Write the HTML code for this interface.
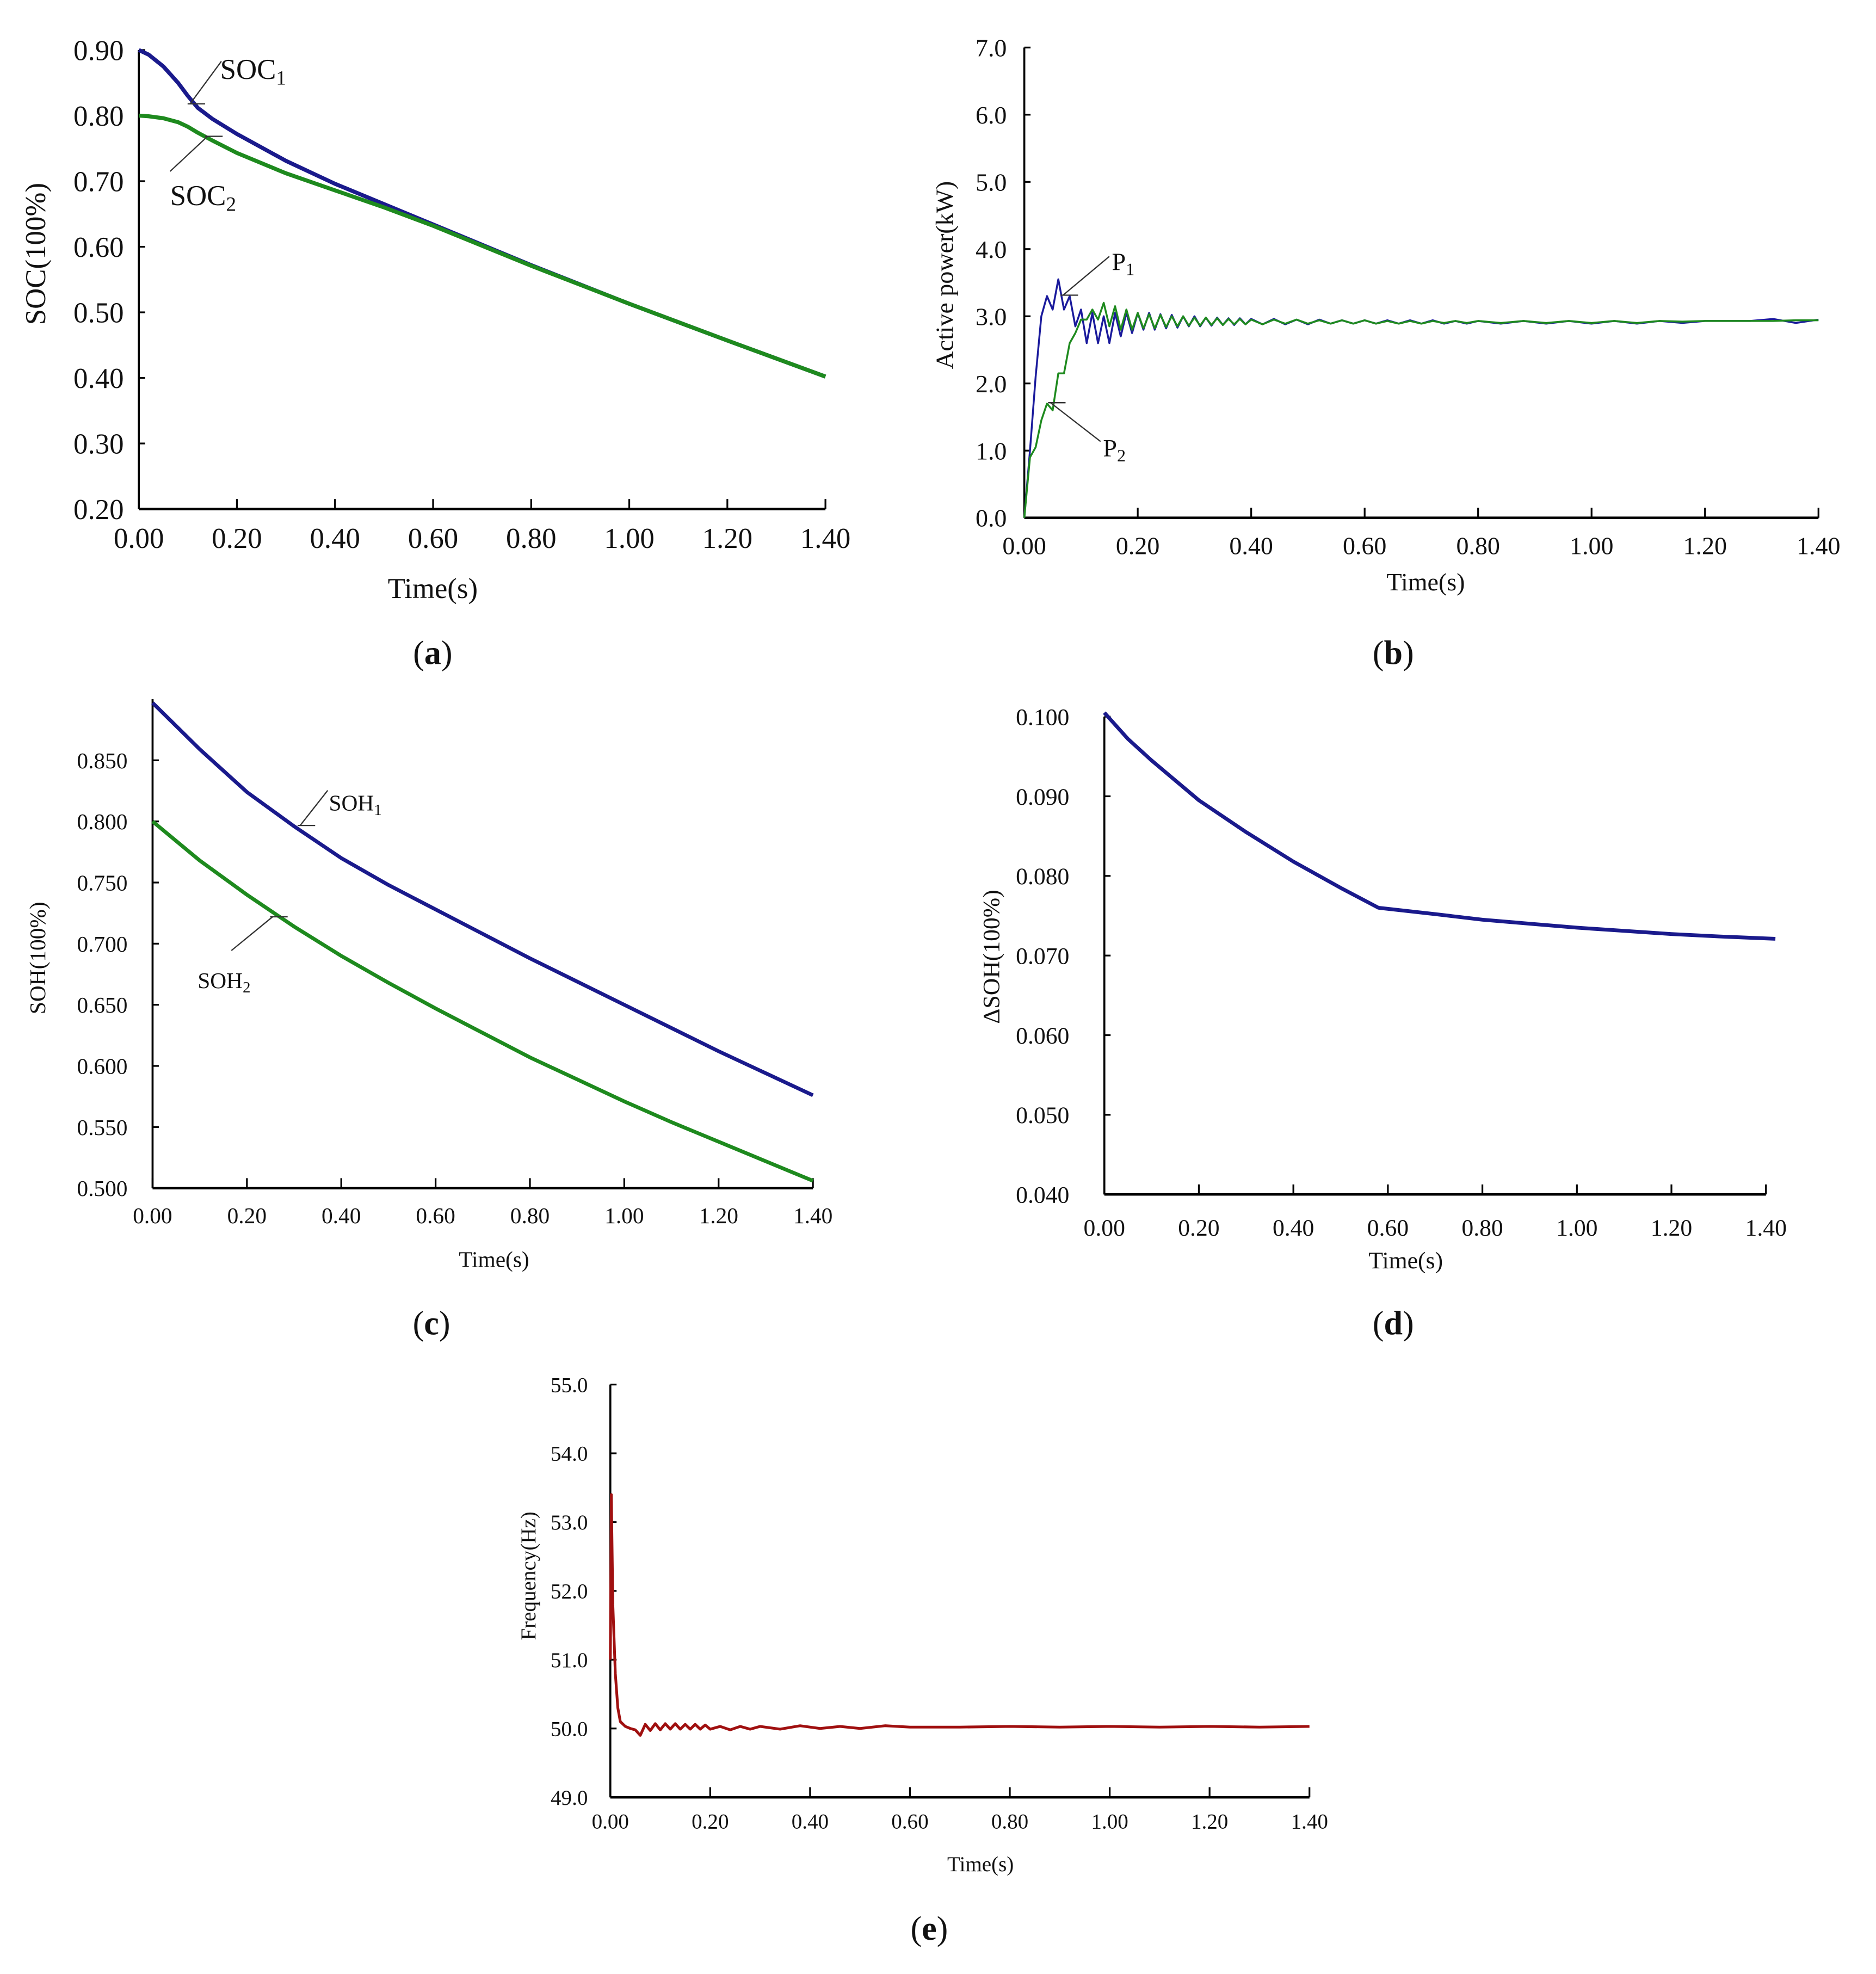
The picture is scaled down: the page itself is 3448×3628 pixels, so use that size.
<!DOCTYPE html>
<html><head><meta charset="utf-8"><style>
html,body{margin:0;padding:0;background:#fff}
svg{display:block}
text{font-family:"Liberation Serif",serif;fill:#111}
</style></head><body>
<svg id="fig" width="3448" height="3628" viewBox="0 0 1500 1578.3" xmlns="http://www.w3.org/2000/svg"></svg>
<script>
// ---- data ----
const socT = [0,0.02,0.05,0.08,0.1,0.12,0.15,0.2,0.3,0.4,0.5,0.6,0.8,1.0,1.2,1.4];
const soc1 = [0.90,0.893,0.875,0.85,0.83,0.812,0.795,0.772,0.731,0.696,0.665,0.634,0.572,0.513,0.457,0.402];
const soc2 = [0.80,0.799,0.796,0.79,0.783,0.774,0.762,0.743,0.712,0.686,0.66,0.632,0.571,0.513,0.457,0.402];
const socYTicks = ["0.20","0.30","0.40","0.50","0.60","0.70","0.80","0.90"];
const xTicks = ["0.00","0.20","0.40","0.60","0.80","1.00","1.20","1.40"];

const pT = [0,0.01,0.02,0.03,0.04,0.05,0.06,0.07,0.08,0.09,0.10,0.11,0.12,0.13,0.14,0.15,0.16,0.17,0.18,0.19,0.20,0.21,0.22,0.23,0.24,0.25,0.26,0.27,0.28,0.29,0.30,0.31,0.32,0.33,0.34,0.35,0.36,0.37,0.38,0.39,0.40,0.42,0.44,0.46,0.48,0.50,0.52,0.54,0.56,0.58,0.60,0.62,0.64,0.66,0.68,0.70,0.72,0.74,0.76,0.78,0.80,0.84,0.88,0.92,0.96,1.00,1.04,1.08,1.12,1.16,1.20,1.24,1.28,1.32,1.36,1.40];
const p1 = [0,1.0,2.1,3.0,3.3,3.1,3.55,3.1,3.3,2.85,3.1,2.6,3.05,2.6,3.0,2.6,3.05,2.7,3.05,2.75,3.05,2.8,3.05,2.8,3.03,2.82,3.02,2.83,3.0,2.85,3.0,2.85,2.98,2.86,2.98,2.87,2.97,2.87,2.97,2.88,2.96,2.88,2.96,2.88,2.95,2.88,2.95,2.89,2.94,2.89,2.94,2.89,2.94,2.89,2.94,2.89,2.94,2.89,2.93,2.89,2.93,2.89,2.93,2.89,2.93,2.89,2.93,2.89,2.93,2.9,2.93,2.93,2.93,2.96,2.9,2.95];
const p2 = [0,0.9,1.05,1.45,1.7,1.6,2.15,2.15,2.6,2.75,2.95,2.95,3.1,2.95,3.2,2.85,3.15,2.8,3.1,2.8,3.05,2.82,3.03,2.82,3.02,2.84,3.0,2.85,3.0,2.86,2.98,2.86,2.98,2.87,2.97,2.87,2.96,2.88,2.96,2.88,2.95,2.88,2.95,2.89,2.95,2.89,2.94,2.89,2.94,2.89,2.94,2.89,2.93,2.89,2.93,2.89,2.93,2.9,2.93,2.9,2.93,2.9,2.93,2.9,2.93,2.9,2.93,2.9,2.93,2.92,2.93,2.93,2.93,2.93,2.94,2.94];
const pYTicks = ["0.0","1.0","2.0","3.0","4.0","5.0","6.0","7.0"];

const sohT = [0,0.1,0.2,0.3,0.4,0.5,0.6,0.7,0.8,0.9,1.0,1.1,1.2,1.3,1.4];
const soh1 = [0.897,0.859,0.824,0.796,0.770,0.748,0.728,0.708,0.688,0.669,0.650,0.631,0.612,0.594,0.576];
const soh2 = [0.800,0.768,0.740,0.714,0.690,0.668,0.647,0.627,0.607,0.589,0.571,0.554,0.538,0.522,0.506];
const sohYTicks = ["0.500","0.550","0.600","0.650","0.700","0.750","0.800","0.850"];

const dT = [0,0.05,0.1,0.2,0.3,0.4,0.5,0.58,0.7,0.8,0.9,1.0,1.1,1.2,1.3,1.42];
const dsoh = [0.1005,0.0972,0.0945,0.0895,0.0855,0.0818,0.0785,0.0760,0.0752,0.0745,0.0740,0.0735,0.0731,0.0727,0.0724,0.0721];
const dYTicks = ["0.040","0.050","0.060","0.070","0.080","0.090","0.100"];

const fT = [0,0.002,0.005,0.01,0.015,0.02,0.03,0.04,0.05,0.06,0.07,0.08,0.09,0.10,0.11,0.12,0.13,0.14,0.15,0.16,0.17,0.18,0.19,0.20,0.22,0.24,0.26,0.28,0.30,0.34,0.38,0.42,0.46,0.50,0.55,0.60,0.70,0.80,0.90,1.00,1.10,1.20,1.30,1.40];
const freq = [51.0,53.4,51.8,50.8,50.3,50.1,50.03,50.0,49.98,49.9,50.06,49.97,50.07,49.98,50.07,49.99,50.07,49.99,50.06,49.99,50.06,49.99,50.05,49.99,50.03,49.98,50.03,49.99,50.03,49.99,50.04,50.0,50.03,50.0,50.04,50.02,50.02,50.03,50.02,50.03,50.02,50.03,50.02,50.03];
const fYTicks = ["49.0","50.0","51.0","52.0","53.0","54.0","55.0"];

const svg = document.getElementById('fig');
const NS = 'http://www.w3.org/2000/svg';
function mk(tag, attrs, parent){const e=document.createElementNS(NS,tag);for(const k in attrs)e.setAttribute(k,attrs[k]);(parent||svg).appendChild(e);return e;}

function panel(o){
  const g = mk('g',{});
  
  
  const sx = v => o.x0 + (v - o.xmin)/(o.xmax - o.xmin)*(o.x1 - o.x0);
  const sy = v => o.y0 - (v - o.ymin)/(o.ymax - o.ymin)*(o.y0 - o.y1);
  o.sx = sx; o.sy = sy;
  const ya = mk('line',{x1:o.x0,y1:o.y0,x2:o.x0,y2:o.y1,stroke:'#000','stroke-width':1.6},g);
  
  
  const xa = mk('line',{x1:o.x0,y1:o.y0,x2:o.x1,y2:o.y0,stroke:'#000','stroke-width':2},g);
  
  
  o.yticks.forEach(t=>{
    const v=parseFloat(t), y=sy(v);
    mk('line',{x1:o.x0,y1:y,x2:o.x0+5,y2:y,stroke:'#000','stroke-width':1.4},g);
    const tx = mk('text',{x:o.x0-o.ylabGap,y:y+o.fs*0.35,'font-size':o.fs,'text-anchor':'end'},g);
    tx.textContent=t;
    
    
  });
  xTicks.forEach(t=>{
    const v=parseFloat(t), x=sx(v);
    mk('line',{x1:x,y1:o.y0,x2:x,y2:o.y0-8,stroke:'#000','stroke-width':1.4},g);
    const tx = mk('text',{x:x,y:o.y0+o.xlabDy,'font-size':o.fs,'text-anchor':'middle'},g);
    tx.textContent=t;
    
    
  });
  const xt = mk('text',{x:o.xtx,y:o.xty,'font-size':o.tfs,'text-anchor':'middle'},g);
  xt.textContent='Time(s)';
  
  
  const yt = mk('text',{x:0,y:0,'font-size':o.tfs,'text-anchor':'middle',transform:`translate(${o.ytx},${o.yty}) rotate(-90)`},g);
  yt.textContent=o.ytitle;
  
  
  const cap = mk('text',{x:o.capx,y:o.capy,'font-size':27,'text-anchor':'middle'},g);
  cap.innerHTML='(<tspan font-weight="bold">'+o.cap+'</tspan>)';
  
  
  o.g=g;
  return o;
}
function series(o, ts, vs, color, w, name){
  const d = ts.map((t,i)=>(i?'L':'M')+o.sx(t).toFixed(2)+','+o.sy(vs[i]).toFixed(2)).join(' ');
  const p = mk('path',{d:d,fill:'none',stroke:color,'stroke-width':w,'stroke-linejoin':'round'},o.g);
  
  
}
function annot(o, text, sub, tx, ty, lx1, ly1, lx2, ly2, fs, name){
  mk('line',{x1:lx1,y1:ly1,x2:lx2,y2:ly2,stroke:'#333','stroke-width':1},o.g);
  mk('line',{x1:lx2-2,y1:ly2,x2:lx2+12,y2:ly2,stroke:'#333','stroke-width':1},o.g);
  const t = mk('text',{x:tx,y:ty,'font-size':fs},o.g);
  t.innerHTML = text+'<tspan font-size="'+(fs*0.7)+'" dy="'+(fs*0.2)+'">'+sub+'</tspan>';
  
  
}

const A = panel({name:'panel-a',x0:111,x1:660,y0:407,y1:40,xmin:0,xmax:1.4,ymin:0.2,ymax:0.9,yticks:socYTicks,fs:23,ylabGap:12,xlabDy:31,tfs:23,xtx:346,xty:478,ytx:36,yty:203,ytitle:'SOC(100%)',capx:346,capy:531,cap:'a'});
series(A, socT, soc1, '#1a1a8c', 3.2, 'soc1-line');
series(A, socT, soc2, '#1e8a1e', 3.2, 'soc2-line');
annot(A,'SOC','1',176,63,177,49,152,83,23,'soc1-label');
annot(A,'SOC','2',136,164,136,137,166,109,23,'soc2-label');

const B = panel({name:'panel-b',x0:819,x1:1454,y0:414,y1:38,xmin:0,xmax:1.4,ymin:0,ymax:7,yticks:pYTicks,fs:20,ylabGap:14,xlabDy:29,tfs:20,xtx:1140,xty:472,ytx:762,yty:220,ytitle:'Active power(kW)',capx:1114,capy:531,cap:'b'});
series(B, pT, p1, '#1a1a9c', 1.5, 'p1-line');
series(B, pT, p2, '#1e8a1e', 1.5, 'p2-line');
annot(B,'P','1',889,216,887,205,850,236,20,'p1-label');
annot(B,'P','2',882,365,880,353,840,322,20,'p2-label');

const C = panel({name:'panel-c',x0:122,x1:650,y0:950,y1:559,xmin:0,xmax:1.4,ymin:0.5,ymax:0.9,yticks:sohYTicks,fs:18,ylabGap:20,xlabDy:28,tfs:18,xtx:395,xty:1013,ytx:36,yty:766,ytitle:'SOH(100%)',capx:345,capy:1067,cap:'c'});
series(C, sohT, soh1, '#1a1a8c', 3, 'soh1-line');
series(C, sohT, soh2, '#1e8a1e', 3, 'soh2-line');
annot(C,'SOH','1',263,648,262,632,240,660,18,'soh1-label');
annot(C,'SOH','2',158,790,185,760,218,733,18,'soh2-label');

const D = panel({name:'panel-d',x0:883,x1:1412,y0:955,y1:573,xmin:0,xmax:1.4,ymin:0.04,ymax:0.1,yticks:dYTicks,fs:19,ylabGap:28,xlabDy:33,tfs:19,xtx:1124,xty:1014,ytx:799,yty:765,ytitle:'ΔSOH(100%)',capx:1114,capy:1067,cap:'d'});
series(D, dT, dsoh, '#1a1a8c', 3, 'delta-soh-line');

const E = panel({name:'panel-e',x0:488,x1:1047,y0:1437,y1:1107,xmin:0,xmax:1.4,ymin:49,ymax:55,yticks:fYTicks,fs:17,ylabGap:18,xlabDy:25,tfs:17,xtx:784,xty:1496,ytx:428,yty:1260,ytitle:'Frequency(Hz)',capx:743,capy:1551,cap:'e'});
series(E, fT, freq, '#a01010', 2.2, 'frequency-line');
</script>
</body></html>
